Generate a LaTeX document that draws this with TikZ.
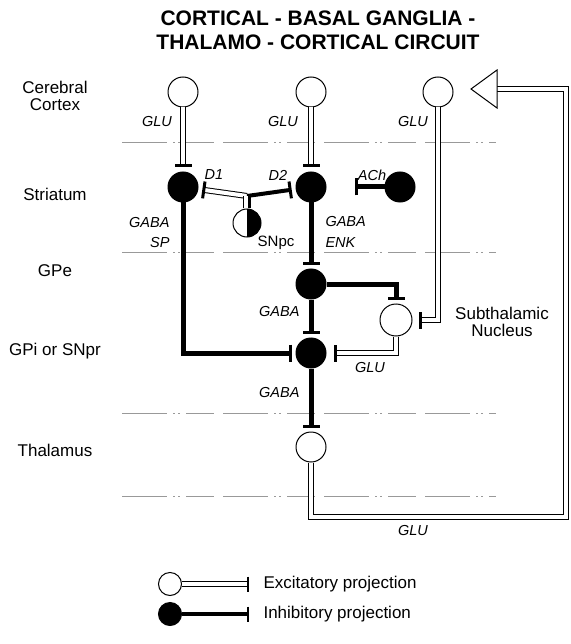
\documentclass[tikz,border=0pt]{standalone}
\usepackage{fontspec}
\setmainfont{Liberation Sans}
\usetikzlibrary{arrows.meta}
\tikzset{
  cell/.style      = {circle, draw, line width=1pt, minimum size=30pt, inner sep=0pt},
  excitcell/.style = {cell, fill=white},
  inhibcell/.style = {cell, fill=black},
  excitline/.style = {line width=1pt, double=white, double distance=4pt},
  excit/.style     = {excitline, -{Bar[width=17pt, line width=3pt]}, shorten >=4pt},
  inhib/.style     = {line width=5pt, -{Bar[width=17pt, line width=3pt]}, shorten >=4pt},
  region/.style    = {font=\fontsize{17}{17}\selectfont, align=center},
  tx/.style        = {font=\fontsize{14.5}{17}\selectfont\itshape},
  sep/.style       = {black!40, line width=0.7pt,
                      dash pattern=on 45pt off 6pt on 2pt off 3pt on 2pt off 6pt on 28pt off 9pt},
}
\begin{document}
\begin{tikzpicture}[x=1pt, y=-1pt]
\useasboundingbox (0,0) rectangle (570,644);

% ---- title ----
\node[font=\bfseries\fontsize{21}{24}\selectfont, align=center] (title) at (318,30)
  {CORTICAL - BASAL GANGLIA -\\THALAMO - CORTICAL CIRCUIT};

% ---- region labels ----
\node[region] (lblctx) at (55,96) {Cerebral\\Cortex};
\node[region] (lblstr) at (55,194) {Striatum};
\node[region] (lblgpe) at (55,271) {GPe};
\node[region] (lblgpi) at (55,351) {GPi or SNpr};
\node[region] (lblthal) at (55,450) {Thalamus};
\node[region] (lblstn) at (502,322) {Subthalamic\\Nucleus};

% ---- separators ----
\draw[sep] (122,142) -- (496,142);
\draw[sep] (122,252) -- (496,252);
\draw[sep] (122,413) -- (496,413);
\draw[sep] (122,496) -- (496,496);

% ---- cells ----
\node[excitcell] (ctxL) at (183,92) {};
\node[excitcell] (ctxM) at (311,92) {};
\node[excitcell] (ctxR) at (438,92) {};
\node[inhibcell] (strL) at (183,187) {};
\node[inhibcell] (strM) at (311,187) {};
\node[inhibcell] (ach) at (400,187) {};
\node[excitcell, minimum size=28pt] (snpc) at (247,223) {};
\begin{scope}
  \clip (247,200) rectangle (270,250);
  \fill (snpc.center) circle (14pt);
\end{scope}
\node[inhibcell] (gpe) at (311,284) {};
\node[excitcell, minimum width=32pt] (stn) at (396,320) {};
\node[inhibcell] (gpi) at (311,353) {};
\node[excitcell] (thal) at (311,447) {};

\coordinate (snpcJ) at (247,196);
\coordinate (achEnd) at (355,187);
\coordinate (loopBR) at (566,517);
\coordinate (fbBase) at (497,89);
\coordinate (fbTip) at (471,89);

% ---- projections ----
\draw[excit] (ctxL) -- (strL);
\draw[excit] (ctxM) -- (strM);
\draw[excit, shorten >=6pt] (ctxR) |- (stn);
\draw[excit] (snpcJ) -- (strL);
\draw[inhib, line width=4pt] (snpcJ) -- (strM);
\draw[excitline] ([xshift=-1.5pt]snpc.north) -- ([xshift=-1.5pt]snpcJ);
\draw[line width=3pt] ([xshift=2.5pt]snpc.north) -- ([xshift=2.5pt]snpcJ);
\draw[inhib, shorten >=0pt] (ach) -- (achEnd);
\draw[inhib] (strM) -- (gpe);
\draw[inhib] (strL) |- (gpi);
\draw[inhib] (gpe) -| (stn);
\draw[inhib] (gpe) -- (gpi);
\draw[excit, shorten >=7pt] (stn) |- (gpi);
\draw[inhib] (gpi) -- (thal);
\draw[excitline] (thal) |- (loopBR) |- (fbBase);
\draw[line width=1pt, fill=white] (fbTip) -- ++(26,-19) -- ++(0,38) -- cycle;

% ---- transmitter labels ----
\node[tx] (gluL) at (157,122) {GLU};
\node[tx] (gluM) at (283,122) {GLU};
\node[tx] (gluR) at (413,122) {GLU};
\node[tx] (d1) at (214,175) {D1};
\node[tx] (d2) at (278,175) {D2};
\node[tx] (achlbl) at (372,175) {ACh};
\node[tx, anchor=east] (gabaL) at (173,223) {GABA};
\node[tx, anchor=east] (sp) at (173,243) {SP};
\node[tx, anchor=west] (gabaM) at (322,222) {GABA};
\node[tx, anchor=west] (enk) at (322,243) {ENK};
\node[font=\fontsize{15}{17}\selectfont] (snpclbl) at (276,243) {SNpc};
\node[tx, anchor=east] (gabaGpe) at (303,312) {GABA};
\node[tx] (gluStn) at (370,368) {GLU};
\node[tx, anchor=east] (gabaGpi) at (303,393) {GABA};
\node[tx] (gluThal) at (413,531) {GLU};

% ---- legend ----
\node[excitcell, minimum size=23pt] (legE) at (170,584) {};
\node[inhibcell, minimum size=23pt] (legI) at (170,614) {};
\coordinate (legEend) at (249,584);
\coordinate (legIend) at (249,614);
\draw[excitline, line width=0.9pt, double distance=3.5pt, -{Bar[width=15pt, line width=2pt]}] (legE) -- (legEend);
\draw[line width=4.5pt, -{Bar[width=15pt, line width=2pt]}] (legI) -- (legIend);
\node[region, anchor=west] (legEtxt) at (260,584) {Excitatory projection};
\node[region, anchor=west] (legItxt) at (260,614) {Inhibitory projection};

\end{tikzpicture}
\end{document}
